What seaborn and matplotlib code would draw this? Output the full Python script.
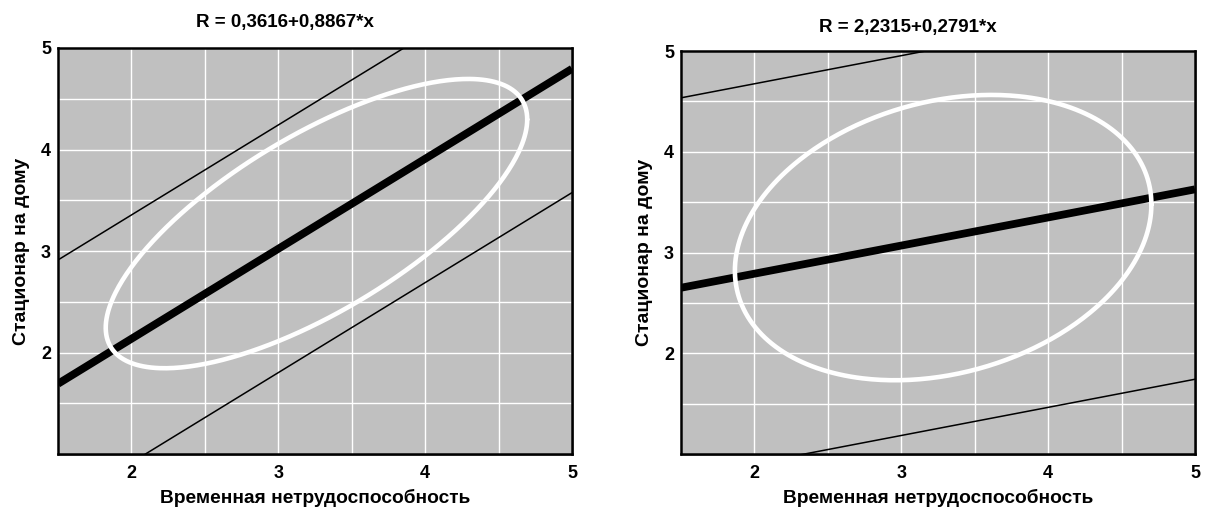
import numpy as np
import pandas as pd
import matplotlib
matplotlib.use("Agg")
import matplotlib.pyplot as plt
from matplotlib.patches import Rectangle
import seaborn as sns

# ---- data ----
x_title = "Временная нетрудоспособность"
y_title = "Стационар на дому"
panel_titles = ["R = 0,3616+0,8867*x", "R = 2,2315+0,2791*x"]
intercepts = [0.3616, 2.2315]
slopes = [0.8867, 0.2791]
band_offsets = [1.22, 1.885]          # vertical distance of thin prediction lines
ellipse_cx = [3.26, 3.285]
ellipse_cy = [3.27, 3.148]
ellipse_sx = [1.435, 1.418]           # half-width of ellipse in x
ellipse_sy = [1.425, 1.416]           # half-height of ellipse in y
ellipse_r = [0.72, 0.232]             # correlation shaping the ellipse tilt
x_limits = [1.5, 5.0]
y_limits = [1.0, 5.0]
major_ticks = [2, 3, 4, 5]
tick_labels = ["2", "3", "4", "5"]
minor_ticks = [1.5, 2.5, 3.5, 4.5]

sns.set_theme(style="darkgrid")
plt.rcParams["font.family"] = ["Liberation Sans", "DejaVu Sans"]
plt.rcParams["font.weight"] = "bold"

W, H = 1205, 514
fig = plt.figure(figsize=(W / 100, H / 100), dpi=100)
fig.patch.set_facecolor("white")

# axes boxes in pixels: left, top, right, bottom
boxes = [(58, 48, 572, 454), (681, 51, 1195, 454)]
title_x = [0.441, 0.441]
title_pad = [15, 13.5]
ylabel_pad = [8, 8]

for i, (l, t, r, b) in enumerate(boxes):
    # soft grey drop shadow of the frame
    fig.patches.append(Rectangle(((l + 2) / W, 1 - (b + 2) / H), (r - l) / W, (b - t) / H,
                                 transform=fig.transFigure, facecolor="#8c8c8c",
                                 edgecolor="none", zorder=-5))
    ax = fig.add_axes([l / W, 1 - b / H, (r - l) / W, (b - t) / H])
    ax.set_zorder(1)
    ax.set_facecolor("#c0c0c0")

    xs = np.array(x_limits)
    reg = pd.DataFrame({"x": xs, "y": intercepts[i] + slopes[i] * xs})
    up = pd.DataFrame({"x": xs, "y": intercepts[i] + slopes[i] * xs + band_offsets[i]})
    lo = pd.DataFrame({"x": xs, "y": intercepts[i] + slopes[i] * xs - band_offsets[i]})

    sns.lineplot(data=up, x="x", y="y", ax=ax, color="black", lw=1.1,
                 estimator=None, sort=False, zorder=3)
    sns.lineplot(data=lo, x="x", y="y", ax=ax, color="black", lw=1.1,
                 estimator=None, sort=False, zorder=3)
    sns.lineplot(data=reg, x="x", y="y", ax=ax, color="black", lw=5.6,
                 estimator=None, sort=False, zorder=4, solid_capstyle="butt")

    tt = np.linspace(0, 2 * np.pi, 400)
    rr = ellipse_r[i]
    ell = pd.DataFrame({
        "x": ellipse_cx[i] + ellipse_sx[i] * np.cos(tt),
        "y": ellipse_cy[i] + ellipse_sy[i] * (rr * np.cos(tt) + np.sqrt(1 - rr ** 2) * np.sin(tt)),
    })
    sns.lineplot(data=ell, x="x", y="y", ax=ax, color="white", lw=3.3,
                 estimator=None, sort=False, zorder=5)

    ax.set_xlim(*x_limits)
    ax.set_ylim(*y_limits)
    ax.set_xticks(major_ticks)
    ax.set_xticklabels(tick_labels)
    ax.set_yticks(major_ticks)
    ax.set_yticklabels(tick_labels)
    ax.set_xticks(minor_ticks, minor=True)
    ax.set_yticks(minor_ticks, minor=True)
    ax.grid(True, which="both", color="white", lw=1.0, zorder=1)
    ax.set_axisbelow(True)
    ax.tick_params(which="both", length=0, labelsize=13, colors="black")
    ax.tick_params(axis="x", pad=8)
    ax.tick_params(axis="y", pad=5)
    for s in ax.spines.values():
        s.set_visible(True)
        s.set_color("black")
        s.set_linewidth(1.8)
        s.set_zorder(10)

    ax.set_xlabel(x_title, fontsize=13.8, fontweight="bold", color="black", labelpad=5)
    ax.set_ylabel(y_title, fontsize=14, fontweight="bold", color="black", labelpad=ylabel_pad[i])
    ax.set_title(panel_titles[i], fontsize=13.5, fontweight="bold", color="black",
                 x=title_x[i], pad=title_pad[i])

fig.savefig("out.png", dpi=100)
